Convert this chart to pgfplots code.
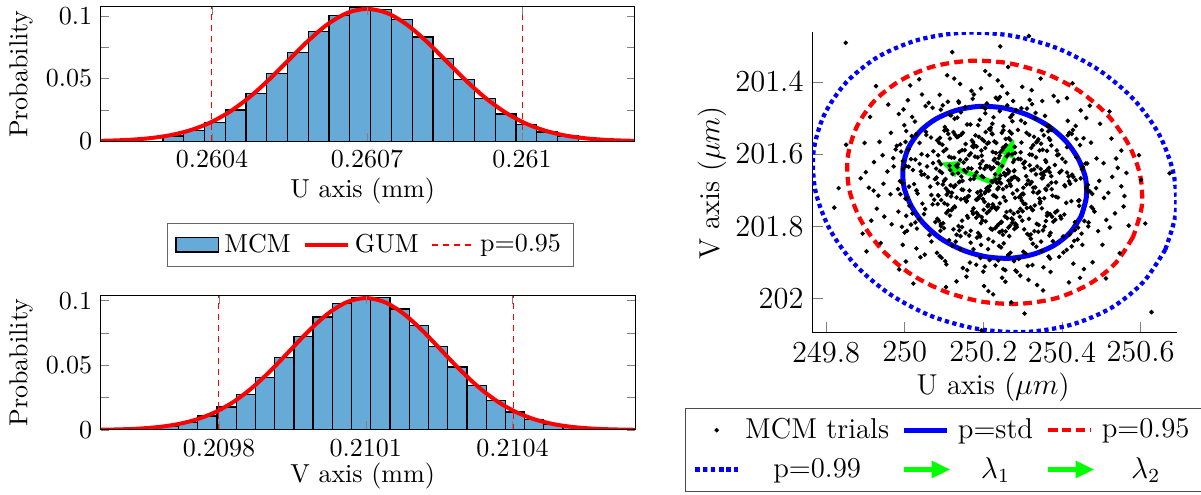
\documentclass[border=0pt]{standalone}
\usepackage{pgfplots}
\pgfplotsset{compat=1.18}
\usetikzlibrary{arrows.meta}
\definecolor{histblue}{RGB}{102,170,215}

\pgfplotsset{
  histo/.style={
    scale only axis, width=213.6pt,
    axis on top, tick align=inside,
    major tick length=3.4pt, minor tick length=3.4pt,
    ymin=0, ytick={0,0.05,0.1}, yticklabels={0,0.05,0.1},
    minor ytick={0.025,0.075},
    scaled ticks=false,
    tick label style={font=\fontsize{10.4}{12}\selectfont},
    label style={font=\fontsize{10.4}{12}\selectfont},
    ylabel={Probability},
    ylabel style={at={(axis description cs:-0.15,0.5)}, anchor=center},
  },
  bars/.style={ybar interval, fill=histblue, draw=black, line width=0.5pt, area legend},
  gum/.style={red, line width=1.6pt, smooth},
  pline/.style={red, line width=0.5pt, dash pattern=on 2.4pt off 2pt},
  arrowplot/.style={green, line width=2pt, -{Triangle[length=7.5pt,width=6.5pt]},
    legend image code/.code={\draw[##1] (0cm,0cm) -- (0.65cm,0cm);}},
}

\begin{document}
\begin{tikzpicture}
\useasboundingbox (0,0) rectangle (480.4pt,198pt);

% U histogram
\begin{axis}[histo, height=53.72pt,
  at={(40.4pt,141.48pt)}, anchor=south west,
  xmin=0.2601852, xmax=0.2612187, ymax=0.107,
  xtick={0.2604,0.2607,0.261}, xticklabels={0.2604,0.2607,0.261},
  xlabel={U axis (mm)},
  xlabel style={at={(axis description cs:0.49,-0.37)}, anchor=center},
  legend columns=3,
  legend style={at={(0.505,-0.772)}, anchor=center, draw=black!60,
    font=\fontsize{10.4}{12}\selectfont,
    /tikz/every even column/.append style={column sep=3pt}},
]
\addplot[bars] coordinates {
(0.2603050,0.0042) (0.2603452,0.0085) (0.2603854,0.0148) (0.2604256,0.0250)
(0.2604658,0.0380) (0.2605060,0.0540) (0.2605462,0.0710) (0.2605864,0.0875)
(0.2606266,0.1000) (0.2606668,0.1066) (0.2607070,0.1050) (0.2607472,0.0968)
(0.2607874,0.0830) (0.2608276,0.0662) (0.2608678,0.0495) (0.2609080,0.0340)
(0.2609482,0.0218) (0.2609884,0.0132) (0.2610286,0.0074) (0.2610688,0.0042)
(0.2611090,0.0042)
};
\addlegendentry{MCM}
\addplot[gum] coordinates {
(0.2601631,0.000231) (0.2602015,0.000537) (0.2602398,0.001172) (0.2602782,0.002405)
(0.2603165,0.004635) (0.2603549,0.008393) (0.2603932,0.014278) (0.2604316,0.022816)
(0.2604699,0.034251) (0.2605083,0.048301) (0.2605466,0.063989) (0.2605850,0.079636)
(0.2606233,0.093103) (0.2606617,0.102254) (0.2607000,0.105500) (0.2607384,0.102254)
(0.2607767,0.093103) (0.2608151,0.079636) (0.2608534,0.063989) (0.2608918,0.048301)
(0.2609301,0.034251) (0.2609685,0.022816) (0.2610068,0.014278) (0.2610452,0.008393)
(0.2610835,0.004635) (0.2611219,0.002405) (0.2611602,0.001172) (0.2611986,0.000537)
(0.2612369,0.000231)
};
\addlegendentry{GUM}
\addplot[pline] coordinates {(0.2603993,0) (0.2603993,0.107)};
\addlegendentry{p=0.95}
\addplot[pline, forget plot] coordinates {(0.2610007,0) (0.2610007,0.107)};
\end{axis}

% V histogram
\begin{axis}[histo, height=53.88pt,
  at={(40.4pt,26pt)}, anchor=south west,
  xmin=0.2095588, xmax=0.2106504, ymax=0.1042,
  xtick={0.2098,0.2101,0.2104}, xticklabels={0.2098,0.2101,0.2104},
  xlabel={V axis (mm)},
  xlabel style={at={(axis description cs:0.49,-0.341)}, anchor=center},
]
\addplot[bars] coordinates {
(0.2096780,0.0030) (0.2097173,0.0057) (0.2097566,0.0108) (0.2097959,0.0178)
(0.2098352,0.0276) (0.2098745,0.0408) (0.2099138,0.0562) (0.2099531,0.0722)
(0.2099924,0.0874) (0.2100317,0.0980) (0.2100710,0.1026) (0.2101103,0.1026)
(0.2101496,0.0936) (0.2101889,0.0807) (0.2102282,0.0647) (0.2102675,0.0487)
(0.2103068,0.0343) (0.2103461,0.0227) (0.2103854,0.0139) (0.2104247,0.0080)
(0.2104640,0.0041) (0.2105033,0.0020) (0.2105426,0.0020)
};
\addplot[gum] coordinates {
(0.2095232,0.000090) (0.2095617,0.000223) (0.2096002,0.000519) (0.2096386,0.001134)
(0.2096771,0.002327) (0.2097155,0.004486) (0.2097540,0.008123) (0.2097924,0.013818)
(0.2098309,0.022081) (0.2098693,0.033147) (0.2099078,0.046745) (0.2099462,0.061927)
(0.2099847,0.077069) (0.2100231,0.090103) (0.2100616,0.098959) (0.2101000,0.102100)
(0.2101385,0.098959) (0.2101769,0.090103) (0.2102154,0.077069) (0.2102538,0.061927)
(0.2102923,0.046745) (0.2103307,0.033147) (0.2103692,0.022081) (0.2104076,0.013818)
(0.2104461,0.008123) (0.2104845,0.004486) (0.2105230,0.002327) (0.2105614,0.001134)
(0.2105999,0.000519) (0.2106383,0.000223) (0.2106768,0.000090)
};
\addplot[pline] coordinates {(0.2097986,0) (0.2097986,0.1042)};
\addplot[pline] coordinates {(0.2104015,0) (0.2104015,0.1042)};
\end{axis}

% scatter of the MCM trials
\begin{axis}[scale only axis, width=145.76pt, height=120.16pt,
  at={(324.92pt,64.92pt)}, anchor=south west,
  xmin=249.765, xmax=250.692, ymin=201.263, ymax=202.094,
  y dir=reverse,
  axis x line*=bottom, axis y line*=left,
  tick align=inside, major tick length=4.2pt,
  xtick={249.8,250,250.2,250.4,250.6}, xticklabels={249.8,250,250.2,250.4,250.6},
  ytick={201.4,201.6,201.8,202}, yticklabels={201.4,201.6,201.8,202},
  tick label style={font=\fontsize{12.2}{14}\selectfont},
  label style={font=\fontsize{11.5}{13}\selectfont},
  xlabel={U axis ($\mu m$)}, ylabel={V axis ($\mu m$)},
  xlabel style={at={(axis description cs:0.496,-0.181)}, anchor=center},
  ylabel style={at={(axis description cs:-0.275,0.498)}, anchor=center},
  legend columns=3, legend cell align=center,
  legend style={at={(0.361,-0.3905)}, anchor=center, draw=black!70,
    font=\fontsize{11.5}{13}\selectfont, row sep=2pt,
    /tikz/every even column/.append style={column sep=3pt}},
]
\addplot[only marks, mark=*, mark size=0.7pt, black] table {
x y
250.217 201.688
250.262 201.643
250.185 201.706
250.244 201.659
250.199 201.724
250.271 201.671
250.226 201.637
250.208 201.695
250.253 201.652
250.190 201.717
250.235 201.680
250.277 201.664
250.213 201.701
250.248 201.633
250.182 201.726
250.266 201.648
250.221 201.675
250.194 201.713
250.259 201.690
250.230 201.656
250.203 201.641
250.275 201.709
250.241 201.668
250.188 201.722
250.268 201.683
250.211 201.634
250.250 201.697
250.196 201.661
250.233 201.719
250.279 201.645
250.206 201.704
250.224 201.677
250.257 201.729
250.183 201.650
250.239 201.692
250.272 201.666
250.192 201.638
250.228 201.715
250.264 201.673
250.215 201.700
250.346 201.641
250.301 201.709
250.287 201.668
250.355 201.722
250.319 201.683
250.337 201.634
250.374 201.697
250.309 201.661
250.291 201.719
250.361 201.645
250.342 201.704
250.323 201.677
250.298 201.729
250.369 201.650
250.332 201.692
250.351 201.666
250.305 201.638
250.376 201.715
250.314 201.673
250.286 201.700
250.347 201.654
250.365 201.687
250.295 201.721
250.329 201.642
250.358 201.696
250.280 201.663
250.338 201.708
250.318 201.631
250.373 201.679
250.302 201.711
250.354 201.658
250.327 201.693
250.089 201.647
250.143 201.725
250.167 201.670
250.110 201.702
250.134 201.636
250.097 201.684
250.160 201.718
250.122 201.655
250.149 201.699
250.081 201.665
250.170 201.640
250.107 201.712
250.140 201.676
250.093 201.727
250.156 201.649
250.125 201.691
250.178 201.660
250.112 201.705
250.131 201.632
250.084 201.681
250.163 201.716
250.104 201.669
250.145 201.698
250.116 201.644
250.152 201.723
250.100 201.674
250.136 201.653
250.120 201.707
250.117 201.686
250.162 201.639
250.085 201.714
250.144 201.662
250.235 201.799
250.277 201.765
250.213 201.740
250.248 201.812
250.182 201.776
250.266 201.827
250.221 201.749
250.194 201.791
250.259 201.760
250.230 201.805
250.203 201.732
250.275 201.781
250.241 201.816
250.188 201.769
250.268 201.798
250.211 201.744
250.250 201.823
250.196 201.774
250.233 201.753
250.279 201.807
250.206 201.786
250.224 201.739
250.257 201.814
250.183 201.762
250.239 201.794
250.272 201.778
250.192 201.828
250.228 201.746
250.264 201.803
250.215 201.757
250.246 201.789
250.242 201.604
250.223 201.545
250.198 201.619
250.269 201.561
250.232 201.597
250.251 201.534
250.205 201.583
250.276 201.622
250.214 201.568
250.186 201.609
250.247 201.541
250.265 201.556
250.195 201.590
250.229 201.613
250.258 201.575
250.180 201.548
250.238 201.626
250.218 201.533
250.273 201.601
250.202 201.564
250.254 201.580
250.227 201.617
250.189 201.552
250.243 201.595
250.267 201.537
250.210 201.571
250.234 201.624
250.197 201.559
250.260 201.606
250.222 201.543
250.249 201.588
250.349 201.750
250.281 201.792
250.370 201.766
250.307 201.738
250.340 201.815
250.293 201.773
250.356 201.800
250.325 201.754
250.378 201.787
250.312 201.821
250.331 201.742
250.284 201.796
250.363 201.763
250.304 201.808
250.345 201.731
250.316 201.779
250.352 201.811
250.300 201.758
250.336 201.793
250.320 201.747
250.317 201.825
250.362 201.770
250.285 201.802
250.344 201.736
250.299 201.784
250.371 201.818
250.326 201.755
250.103 201.532
250.175 201.581
250.141 201.616
250.088 201.569
250.168 201.598
250.111 201.544
250.150 201.623
250.096 201.574
250.133 201.553
250.179 201.607
250.106 201.586
250.124 201.539
250.157 201.614
250.083 201.562
250.139 201.594
250.172 201.578
250.092 201.628
250.128 201.546
250.164 201.603
250.115 201.557
250.146 201.589
250.101 201.535
250.087 201.620
250.155 201.572
250.119 201.610
250.137 201.551
250.174 201.567
250.347 201.571
250.365 201.537
250.295 201.595
250.329 201.552
250.358 201.617
250.280 201.580
250.338 201.564
250.318 201.601
250.373 201.533
250.302 201.626
250.354 201.548
250.327 201.575
250.289 201.613
250.343 201.590
250.367 201.556
250.310 201.541
250.334 201.609
250.297 201.568
250.360 201.622
250.322 201.583
250.349 201.534
250.281 201.597
250.370 201.561
250.106 201.763
250.124 201.808
250.157 201.731
250.083 201.779
250.139 201.811
250.172 201.758
250.092 201.793
250.128 201.747
250.164 201.825
250.115 201.770
250.146 201.802
250.101 201.736
250.087 201.784
250.155 201.818
250.119 201.755
250.137 201.799
250.174 201.765
250.109 201.740
250.091 201.812
250.161 201.776
250.142 201.827
250.123 201.749
250.098 201.791
250.417 201.662
250.462 201.694
250.385 201.678
250.444 201.728
250.399 201.646
250.471 201.703
250.426 201.657
250.408 201.689
250.453 201.635
250.390 201.720
250.435 201.672
250.477 201.710
250.413 201.651
250.448 201.667
250.382 201.630
250.466 201.685
250.421 201.682
249.994 201.680
250.059 201.664
250.030 201.701
250.003 201.633
250.075 201.726
250.041 201.648
249.988 201.675
250.068 201.713
250.011 201.690
250.050 201.656
249.996 201.641
250.033 201.709
250.079 201.668
250.006 201.722
250.024 201.683
250.057 201.634
249.983 201.697
250.240 201.854
250.193 201.887
250.256 201.921
250.225 201.842
250.278 201.896
250.212 201.863
250.231 201.908
250.184 201.831
250.263 201.879
250.204 201.911
250.245 201.858
250.216 201.893
250.252 201.847
250.200 201.925
250.219 201.527
250.237 201.449
250.274 201.491
250.209 201.460
250.191 201.505
250.261 201.432
250.242 201.481
250.223 201.516
250.198 201.469
250.269 201.498
250.232 201.444
250.251 201.523
250.205 201.474
250.276 201.453
250.403 201.828
250.475 201.746
250.441 201.803
250.388 201.757
250.468 201.789
250.411 201.735
250.450 201.820
250.396 201.772
250.433 201.810
250.479 201.751
250.406 201.767
250.424 201.730
250.457 201.785
250.383 201.782
249.995 201.619
250.029 201.545
250.058 201.604
249.980 201.577
250.038 201.627
250.018 201.550
250.073 201.592
250.002 201.566
250.054 201.538
250.027 201.615
249.989 201.573
250.043 201.600
250.067 201.554
250.010 201.587
250.392 201.601
250.428 201.533
250.464 201.626
250.415 201.548
250.446 201.575
250.401 201.613
250.387 201.590
250.455 201.556
250.419 201.541
250.437 201.609
250.474 201.568
250.409 201.622
250.078 201.788
250.012 201.743
250.031 201.806
249.984 201.759
250.063 201.824
250.004 201.771
250.045 201.737
250.016 201.795
250.052 201.752
250.000 201.817
250.036 201.780
250.020 201.764
250.371 201.926
250.326 201.848
250.308 201.875
250.353 201.913
250.290 201.890
250.335 201.856
250.377 201.841
250.313 201.909
250.348 201.868
250.282 201.922
250.366 201.883
250.321 201.834
250.138 201.458
250.118 201.493
250.173 201.447
250.102 201.525
250.154 201.470
250.127 201.502
250.089 201.436
250.143 201.484
250.167 201.518
250.110 201.455
250.134 201.499
250.097 201.465
250.368 201.523
250.311 201.474
250.350 201.453
250.296 201.507
250.333 201.486
250.379 201.439
250.306 201.514
250.324 201.462
250.357 201.494
250.283 201.478
250.113 201.838
250.148 201.915
250.082 201.873
250.166 201.900
250.121 201.854
250.094 201.887
250.159 201.921
250.130 201.842
250.103 201.896
250.175 201.863
250.440 201.836
250.393 201.884
250.456 201.918
250.425 201.855
250.478 201.899
250.412 201.865
250.431 201.840
249.985 201.489
250.044 201.435
249.999 201.520
250.071 201.472
250.026 201.510
250.008 201.451
250.053 201.467
250.462 201.500
250.390 201.454
250.435 201.522
250.413 201.445
250.448 201.479
250.030 201.861
250.003 201.897
250.068 201.842
249.986 201.919
250.051 201.878
250.495 201.674
250.542 201.638
250.518 201.707
250.564 201.652
250.507 201.721
250.551 201.689
249.956 201.648
249.909 201.693
249.933 201.715
249.888 201.667
249.972 201.634
249.921 201.701
250.202 201.965
250.248 201.942
250.225 201.988
250.271 202.010
250.237 201.396
250.194 201.418
250.263 201.359
250.216 201.381
250.513 201.782
250.557 201.745
250.492 201.813
250.535 201.764
250.570 201.798
249.944 201.603
249.898 201.569
249.965 201.541
249.922 201.622
249.977 201.587
250.488 201.612
250.526 201.557
250.551 201.590
250.506 201.625
249.929 201.751
249.967 201.794
249.893 201.820
249.948 201.773
250.315 201.948
250.352 201.977
250.294 201.936
250.141 201.406
250.108 201.382
250.170 201.425
250.299 201.414
250.346 201.391
250.323 201.423
250.157 201.939
250.105 201.968
250.132 201.952
250.503 201.851
250.547 201.874
249.912 201.497
249.958 201.463
250.521 201.482
250.497 201.516
249.939 201.846
249.903 201.869
250.418 201.955
250.446 201.942
250.037 201.393
250.014 201.410
250.427 201.404
250.022 201.958
250.512 201.944
249.927 201.412
250.601 201.671
250.674 201.653
249.832 201.694
249.764 201.635
250.612 201.792
249.851 201.574
250.596 201.603
249.821 201.748
250.195 202.088
250.316 201.273
250.243 201.302
250.305 202.041
250.121 201.318
249.850 201.292
250.628 202.037
250.220 201.642
250.236 201.697
250.200 201.664
250.252 201.719
250.216 201.635
250.245 201.681
250.204 201.708
250.263 201.653
250.184 201.726
250.231 201.670
250.212 201.691
250.278 201.647
250.225 201.714
250.256 201.659
250.193 201.702
250.240 201.676
250.207 201.633
250.270 201.688
250.281 201.721
250.349 201.667
250.322 201.645
250.360 201.699
250.297 201.712
250.334 201.656
250.310 201.684
250.367 201.638
250.343 201.723
250.289 201.671
250.327 201.705
250.354 201.650
250.302 201.693
250.373 201.661
250.118 201.717
250.138 201.678
250.080 201.640
250.158 201.729
250.129 201.686
250.095 201.652
250.165 201.701
250.147 201.674
250.086 201.715
250.114 201.632
250.176 201.668
250.105 201.695
250.151 201.644
250.132 201.720
250.269 201.757
250.198 201.783
250.223 201.809
250.242 201.736
250.261 201.777
250.191 201.824
250.209 201.763
250.274 201.790
250.237 201.748
250.219 201.806
250.255 201.772
250.187 201.818
250.201 201.754
250.246 201.787
250.215 201.531
250.264 201.600
250.228 201.565
250.192 201.627
250.272 201.543
250.239 201.611
250.183 201.579
250.257 201.558
250.224 201.594
250.206 201.539
250.279 201.616
250.233 201.569
250.196 201.604
250.250 201.582
250.311 201.749
250.368 201.825
250.288 201.760
250.341 201.796
250.375 201.773
250.303 201.737
250.330 201.813
250.359 201.785
250.294 201.751
250.321 201.822
250.366 201.766
250.282 201.798
250.148 201.541
250.113 201.607
250.177 201.575
250.135 201.628
250.090 201.555
250.153 201.589
250.108 201.534
250.126 201.610
250.171 201.562
250.099 201.592
250.144 201.546
250.085 201.603
250.362 201.591
250.317 201.547
250.295 201.614
250.340 201.559
250.324 201.602
250.373 201.576
250.288 201.533
250.351 201.588
250.306 201.621
250.335 201.567
250.127 201.745
250.092 201.799
250.168 201.812
250.111 201.756
250.146 201.784
250.084 201.738
250.132 201.823
250.159 201.771
250.100 201.805
250.175 201.750
250.407 201.686
250.451 201.642
250.385 201.718
250.429 201.663
250.466 201.704
250.394 201.651
250.442 201.729
250.418 201.675
250.043 201.657
249.989 201.711
250.021 201.644
250.065 201.690
250.002 201.723
250.077 201.669
250.030 201.700
250.010 201.635
250.194 201.851
250.238 201.894
250.213 201.835
250.269 201.873
250.251 201.918
250.182 201.906
250.226 201.498
250.261 201.465
250.187 201.520
250.242 201.442
250.205 201.487
250.274 201.509
250.398 201.778
250.444 201.743
250.420 201.822
250.467 201.800
250.383 201.761
250.433 201.788
250.016 201.614
250.055 201.547
249.991 201.593
250.038 201.569
250.072 201.625
250.004 201.536
250.388 201.603
250.437 201.558
250.413 201.581
250.460 201.626
250.425 201.544
250.049 201.766
250.006 201.812
250.071 201.739
250.027 201.789
249.993 201.801
250.302 201.870
250.347 201.842
250.325 201.907
250.370 201.889
250.285 201.925
250.114 201.491
250.159 201.518
250.137 201.454
250.092 201.477
250.176 201.435
250.332 201.501
250.297 201.473
250.363 201.522
250.318 201.450
250.141 201.863
250.106 201.905
250.168 201.845
250.089 201.882
250.404 201.872
250.452 201.851
250.429 201.903
250.019 201.497
250.061 201.458
249.997 201.476
250.415 201.508
250.471 201.466
250.040 201.885
249.995 201.851
250.528 201.663
250.487 201.694
250.559 201.716
249.946 201.682
249.901 201.650
249.964 201.711
250.256 201.953
250.213 201.979
250.248 201.412
250.205 201.370
250.522 201.803
250.483 201.759
249.936 201.566
249.971 201.611
250.538 201.612
249.915 201.784
250.337 201.962
250.126 201.391
};
\addlegendentry{MCM trials}
\addplot[blue, line width=2pt, smooth] coordinates {
(250.449,201.772) (250.420,201.818) (250.379,201.853) (250.327,201.877)
(250.269,201.888) (250.208,201.884) (250.149,201.866) (250.094,201.835)
(250.049,201.793) (250.017,201.744) (249.998,201.690) (249.996,201.636)
(250.009,201.584) (250.038,201.538) (250.079,201.503) (250.131,201.479)
(250.189,201.468) (250.250,201.472) (250.309,201.490) (250.364,201.521)
(250.409,201.563) (250.441,201.612) (250.460,201.666) (250.462,201.720)
(250.449,201.772)
};
\addlegendentry{p=std}
\addplot[red, line width=1.7pt, dash pattern=on 3.5pt off 2.1pt, smooth] coordinates {
(250.581,201.829) (250.536,201.902) (250.470,201.959) (250.387,201.998)
(250.293,202.014) (250.196,202.008) (250.100,201.979) (250.013,201.930)
(249.941,201.863) (249.889,201.784) (249.859,201.698) (249.855,201.610)
(249.877,201.527) (249.922,201.454) (249.988,201.397) (250.071,201.358)
(250.165,201.342) (250.262,201.348) (250.358,201.377) (250.445,201.426)
(250.517,201.493) (250.569,201.572) (250.599,201.658) (250.603,201.746)
(250.581,201.829)
};
\addlegendentry{p=0.95}
\addplot[blue, line width=1.7pt, dash pattern=on 1.7pt off 1.4pt, smooth] coordinates {
(250.663,201.864) (250.607,201.954) (250.526,202.025) (250.424,202.072)
(250.308,202.092) (250.188,202.084) (250.070,202.049) (249.963,201.988)
(249.874,201.906) (249.810,201.809) (249.773,201.702) (249.768,201.594)
(249.795,201.492) (249.851,201.402) (249.932,201.331) (250.034,201.284)
(250.150,201.264) (250.270,201.272) (250.388,201.307) (250.495,201.368)
(250.584,201.450) (250.648,201.547) (250.684,201.654) (250.690,201.762)
(250.663,201.864)
};
\addlegendentry{p=0.99}
\addplot[arrowplot] coordinates {(250.225,201.679) (250.092,201.623)};
\addlegendentry{$\lambda_1$}
\addplot[arrowplot] coordinates {(250.225,201.679) (250.280,201.558)};
\addlegendentry{$\lambda_2$}
\end{axis}
\end{tikzpicture}
\end{document}
